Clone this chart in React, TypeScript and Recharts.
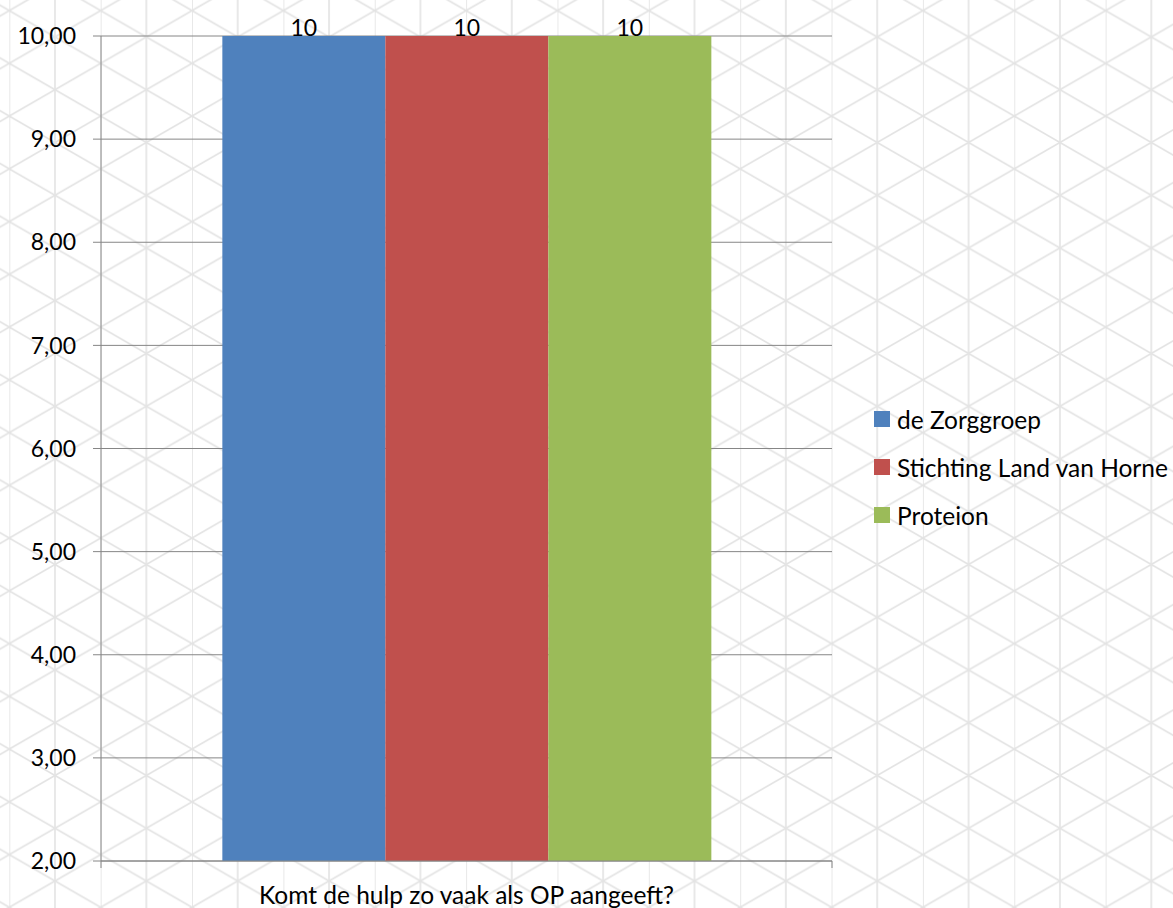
import React from 'react';
import { Bar, BarChart, CartesianGrid, LabelList, Legend, XAxis, YAxis } from 'recharts';

const categories = ['Komt de hulp zo vaak als OP aangeeft?'];
const seriesNames = ['de Zorggroep', 'Stichting Land van Horne', 'Proteion'];
const zorggroep = [10];
const landVanHorne = [10];
const proteion = [10];
const yTicks = [2, 3, 4, 5, 6, 7, 8, 9, 10];
const colors = ['#4F81BD', '#C0504D', '#9BBB59'];

const data = categories.map((name, i) => ({
  name,
  s0: zorggroep[i],
  s1: landVanHorne[i],
  s2: proteion[i],
}));

const FONT = 'Lato, "Open Sans", sans-serif';
const W = 1173;
const H = 908;
const PLOT_W = 731;
const GRID = '#868686';
const TEXT_SIZE = 24.5;
const NUM_SIZE = 23;

// triangle lattice behind the chart
const TW = 45.68;
const TH = 52.75;

function Background() {
  return (
    <svg width={W} height={H} style={{ position: 'absolute', left: 0, top: 0 }}>
      <defs>
        <pattern id="tri" patternUnits="userSpaceOnUse" width={TW * 2} height={TH} x={9.3} y={10.6}>
          <line x1={0} y1={-TH} x2={0} y2={TH * 2} stroke="#e3e3e3" strokeWidth={1.6} />
          <line x1={TW} y1={-TH} x2={TW} y2={TH * 2} stroke="#e3e3e3" strokeWidth={1.6} />
          <line x1={0} y1={0} x2={TW * 2} y2={TH} stroke="#e3e3e3" strokeWidth={1.6} />
          <line x1={0} y1={TH} x2={TW * 2} y2={0} stroke="#e3e3e3" strokeWidth={1.6} />
        </pattern>
      </defs>
      <rect width={W} height={H} fill="#fff" />
      <rect width={W} height={H} fill="url(#tri)" />
    </svg>
  );
}

function CategoryTick(props: any) {
  const { x, y, payload } = props;
  return (
    <g>
      <line x1={x - PLOT_W / 2} x2={x - PLOT_W / 2} y1={y} y2={y + 7} stroke={GRID} />
      <line x1={x + PLOT_W / 2} x2={x + PLOT_W / 2} y1={y} y2={y + 7} stroke={GRID} />
      <text x={x} y={y + 43} textAnchor="middle" fill="#000" fontSize={TEXT_SIZE} fontFamily={FONT}>
        {payload.value}
      </text>
    </g>
  );
}

function ValueLabel(props: any) {
  const { x, y, width, value } = props;
  return (
    <text x={x + width / 2} y={y} textAnchor="middle" fill="#000" fontSize={NUM_SIZE} fontFamily={FONT}>
      {value}
    </text>
  );
}

function LegendContent(props: any) {
  const items = [...(props.payload || [])].sort(
    (a: any, b: any) => seriesNames.indexOf(a.value) - seriesNames.indexOf(b.value),
  );
  return (
    <div>
      {items.map((p: any) => (
        <div key={p.value} style={{ display: 'flex', alignItems: 'center', height: 48 }}>
          <span style={{ width: 16, height: 16, background: p.color, marginRight: 7, display: 'inline-block' }} />
          <span style={{ fontSize: TEXT_SIZE, fontFamily: FONT, color: '#000', whiteSpace: 'nowrap' }}>{p.value}</span>
        </div>
      ))}
    </div>
  );
}

export default function App() {
  return (
    <div style={{ position: 'fixed', left: 0, top: 0, width: W, height: H, overflow: 'hidden' }}>
      <Background />
      <div style={{ position: 'absolute', left: 0, top: 0 }}>
        <BarChart
          width={W}
          height={H}
          data={data}
          margin={{ top: 36, right: 341, bottom: 0, left: 0 }}
          barCategoryGap="16.6%"
          barGap={0}
        >
          <CartesianGrid vertical={false} stroke={GRID} />
          <XAxis
            dataKey="name"
            height={47}
            stroke={GRID}
            tickLine={false}
            tickSize={0}
            tickMargin={0}
            tick={<CategoryTick />}
            interval={0}
          />
          <YAxis
            width={101}
            domain={[2, 10]}
            ticks={yTicks}
            allowDataOverflow
            stroke={GRID}
            tickSize={8}
            tickMargin={17}
            tick={{ fill: '#000', fontSize: NUM_SIZE, fontFamily: FONT }}
            tickFormatter={(v: number) => v.toFixed(2).replace('.', ',')}
          />
          <Legend
            layout="vertical"
            align="center"
            verticalAlign="middle"
            wrapperStyle={{ left: 874, top: 395, width: 299 }}
            content={<LegendContent />}
          />
          {['s0', 's1', 's2'].map((k, i) => (
            <Bar key={k} dataKey={k} name={seriesNames[i]} fill={colors[i]} isAnimationActive={false}>
              <LabelList dataKey={k} content={<ValueLabel />} />
            </Bar>
          ))}
        </BarChart>
      </div>
    </div>
  );
}
